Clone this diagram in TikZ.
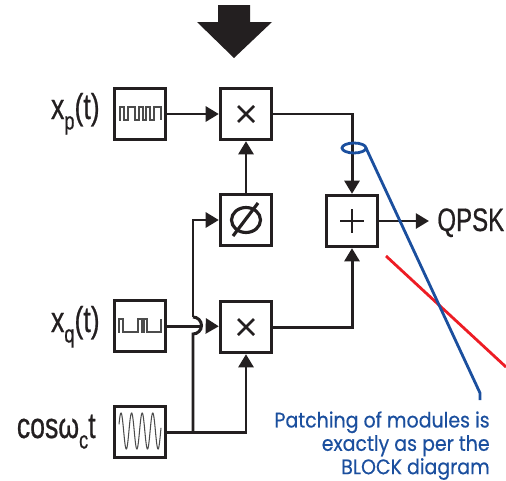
\documentclass[tikz,border=0pt]{standalone}
\usepackage{fontspec}
\setmainfont{Liberation Sans}[FakeStretch=0.74,FakeBold=0.6]
\newfontfamily\notefont{Poppins}[FakeStretch=0.9,FakeBold=0.4]
\usepackage{tikz}
\usetikzlibrary{arrows.meta}

\definecolor{inkblack}{HTML}{231F20}
\definecolor{noteblue}{HTML}{1B4F9E}
\definecolor{crossred}{HTML}{ED1C24}
\newcommand{\sublabel}[1]{\raisebox{-0.55ex}{\fontsize{14}{14}\selectfont #1}}

\tikzset{
  wire/.style={draw=inkblack, line width=1.7pt},
  arrowwire/.style={wire, -{Triangle[length=7.5pt,width=8.5pt]}},
  block/.style={draw=inkblack, line width=1.9pt, minimum size=29pt, inner sep=0pt},
  signal/.style={draw=black!70, line width=0.6pt},
  label/.style={text=inkblack, font=\fontsize{18.5}{18.5}\selectfont, inner sep=0pt},
  siglabel/.style={label, anchor=base east, font=\fontsize{20.5}{20.5}\selectfont},
  glyph/.style={draw=inkblack, line width=1.5pt}
}

\begin{document}
\begin{tikzpicture}[x=0.02cm, y=-0.02cm]
\useasboundingbox (0,0) rectangle (506,480);

\node[block] (sigp) at (140,114) {};
\node[block] (multp) at (246,114) {};
\node[block] (phase) at (246,220) {};
\node[block] (adder) at (352,221) {};
\node[block] (multq) at (246,327) {};
\node[block] (sigq) at (140,326) {};
\node[block] (carrier) at (140,432) {};

\node[siglabel] (xp) at (100,119) {x\sublabel{p}(t)};
\node[siglabel] (xq) at (100,332) {x\sublabel{q}(t)};
\node[siglabel] (coslabel) at (96,438) {cosω\sublabel{c}t};
\node[label, anchor=base west] (qpsk) at (437,231) {QPSK};

% big arrow on top
\fill[inkblack] (218,5) -- (250,5) -- (250,22) -- (272,22) -- (234,58) -- (197,22) -- (218,22) -- cycle;

% marks inside the blocks
\draw[glyph] (238,106) -- (254,122) (254,106) -- (238,122);
\draw[glyph] (238,319) -- (254,335) (254,319) -- (238,335);
\draw[glyph] (340,221) -- (364,221) (352,209) -- (352,233);
\draw[glyph, line width=1.8pt] (246,220) ellipse [x radius=14.5, y radius=12.5];
\draw[glyph, line width=1.8pt] (233,236) -- (258,203);

% waveforms
\draw[signal] (119,120) -- (120,120) -- (120,107) -- (124,107) -- (124,120) -- (128,120) -- (128,107) -- (135,107) -- (135,120) -- (139,120) -- (139,107) -- (143,107) -- (143,120) -- (146,120) -- (146,107) -- (150,107) -- (150,120) -- (154,120) -- (154,107) -- (161,107) -- (161,120);
\draw[signal] (118,332) -- (119,332) -- (119,319) -- (123,319) -- (123,332) -- (138,332) -- (138,319) -- (142,319) -- (142,332) -- (144,332) -- (144,319) -- (147,319) -- (147,332) -- (161,332) -- (161,319);
\draw[signal] plot[domain=119:161, samples=120, smooth] (\x, {431-18*cos((\x-121)*34)});

% wires
\coordinate (jumpin) at (200,326);
\coordinate (jumpout) at (207,326);
\coordinate (branch) at (193,432);
\coordinate (jumptop) at (193,317);
\coordinate (jumpbot) at (193,334);
\draw[arrowwire] (sigp) -- (multp);
\draw[arrowwire] (phase) -- (multp);
\draw[arrowwire] (multp.east) -| (adder.north);
\draw[arrowwire] (multq.east) -| (adder.south);
\coordinate (qpskin) at (429,221);
\draw[arrowwire] (adder) -- (qpskin);
\draw[wire] (sigq) -- (jumpin);
\draw[arrowwire] (jumpout) -- (multq);
\draw[arrowwire] (carrier) -| (multq.south);
\draw[wire] (branch) -- (jumpbot) arc[start angle=90, end angle=-90, radius=8.5];
\draw[arrowwire] (jumptop) |- (phase.west);

% note
\draw[crossred, line width=1.6pt] (386,256) -- (506,367);
\draw[noteblue, line width=1.6pt] (354,148) ellipse [x radius=12, y radius=5];
\coordinate (ringend) at (366,148);
\coordinate (notebend) at (480,393);
\coordinate (noteend) at (480,400);
\draw[noteblue, line width=1.6pt] (ringend) -- (notebend) -- (noteend);
\node[anchor=north east, align=right, text=noteblue, inner sep=0pt, font=\notefont\fontsize{12}{13.3}\selectfont] (note) at (490,411) {Patching of modules is\\exactly as per the\\BLOCK diagram};
\end{tikzpicture}
\end{document}
